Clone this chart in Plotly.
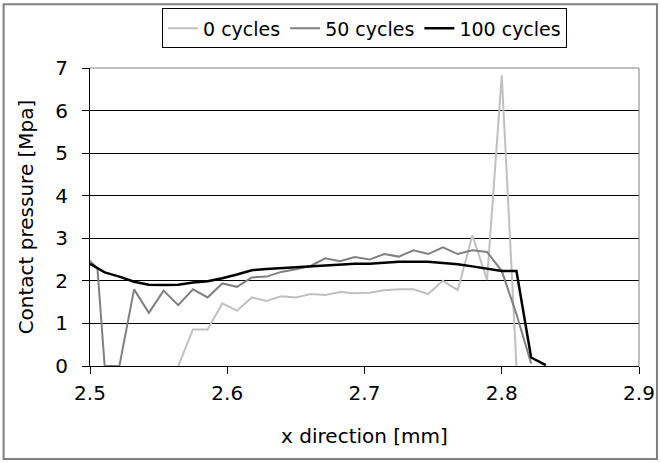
import plotly.graph_objects as go

# ---- data ----
x_grid = [2.5, 2.5107, 2.5214, 2.5321, 2.5429, 2.5536, 2.5643, 2.575, 2.5857, 2.5964,
          2.6071, 2.6179, 2.6286, 2.6393, 2.65, 2.6607, 2.6714, 2.6821, 2.6929, 2.7036,
          2.7143, 2.725, 2.7357, 2.7464, 2.7571, 2.7679, 2.7786, 2.7893, 2.8, 2.8107,
          2.8214, 2.8321]

x_0 = [2.5643, 2.575, 2.5857, 2.5964, 2.6071, 2.6179, 2.6286, 2.6393, 2.65, 2.6607,
       2.6714, 2.6821, 2.6929, 2.7036, 2.7143, 2.725, 2.7357, 2.7464, 2.7571, 2.7679,
       2.7786, 2.7893, 2.8, 2.8107]
y_0 = [0.0, 0.86, 0.86, 1.47, 1.30, 1.61, 1.53, 1.64, 1.61, 1.69,
       1.67, 1.74, 1.71, 1.72, 1.78, 1.80, 1.80, 1.69, 2.00, 1.78,
       3.07, 2.02, 6.83, 0.0]

x_50 = [2.5, 2.5054, 2.5107, 2.5214, 2.5321, 2.5429, 2.5536, 2.5643, 2.575, 2.5857,
        2.5964, 2.6071, 2.6179, 2.6286, 2.6393, 2.65, 2.6607, 2.6714, 2.6821, 2.6929,
        2.7036, 2.7143, 2.725, 2.7357, 2.7464, 2.7571, 2.7679, 2.7786, 2.7893, 2.8,
        2.8107, 2.8214]
y_50 = [2.47, 2.30, 0.0, 0.0, 1.80, 1.25, 1.77, 1.43, 1.80, 1.61,
        1.94, 1.86, 2.08, 2.10, 2.21, 2.27, 2.35, 2.53, 2.46, 2.56,
        2.50, 2.63, 2.57, 2.72, 2.63, 2.79, 2.63, 2.72, 2.68, 2.23,
        1.22, 0.06]

x_100 = x_grid
y_100 = [2.40, 2.20, 2.10, 1.98, 1.91, 1.90, 1.91, 1.96, 1.99, 2.06,
         2.15, 2.25, 2.28, 2.30, 2.32, 2.34, 2.37, 2.39, 2.40, 2.40,
         2.43, 2.45, 2.45, 2.45, 2.42, 2.39, 2.34, 2.29, 2.23, 2.23,
         0.20, 0.02]

series_names = ["0 cycles", "50 cycles", "100 cycles"]
x_ticks = [2.5, 2.6, 2.7, 2.8, 2.9]
y_ticks = [0, 1, 2, 3, 4, 5, 6, 7]

FONT = "DejaVu Sans, Liberation Sans, Arial, sans-serif"
FS = 20

fig = go.Figure()
fig.add_trace(go.Scatter(x=x_0, y=y_0, mode="lines", name=series_names[0],
                         line=dict(color="#c0c0c0", width=2)))
fig.add_trace(go.Scatter(x=x_50, y=y_50, mode="lines", name=series_names[1],
                         line=dict(color="#808080", width=2)))
fig.add_trace(go.Scatter(x=x_100, y=y_100, mode="lines", name=series_names[2],
                         line=dict(color="#000000", width=2.5)))

W, H = 661, 463
L, R, T, B = 89.5, 22, 67.7, 97
pw = W - L - R
ph = H - T - B

def px_to_paper_x(px):
    return (px - L) / pw

def px_to_paper_y(py):
    return (H - B - py) / ph

fig.update_layout(
    width=W, height=H,
    margin=dict(l=L, r=R, t=T, b=B, pad=0, autoexpand=False),
    paper_bgcolor="white", plot_bgcolor="white",
    font=dict(family=FONT, size=FS, color="black"),
    showlegend=True,
    legend=dict(orientation="h", x=0.5, xanchor="center",
                y=px_to_paper_y(8), yanchor="top",
                bordercolor="black", borderwidth=1, bgcolor="white",
                font=dict(size=19), itemwidth=30, tracegroupgap=0),
    xaxis=dict(range=[2.5, 2.9], tickvals=x_ticks, tickformat=".1f",
               showgrid=False, zeroline=False,
               showline=True, linecolor="black", linewidth=1,
               ticks="outside", ticklen=7, tickcolor="black", tickwidth=1,
               ticklabelstandoff=2,
               layer="above traces",
               title=dict(text="x direction [mm]", standoff=24,
                          font=dict(size=FS))),
    yaxis=dict(range=[0, 7], tickvals=y_ticks,
               showgrid=True, gridcolor="black", gridwidth=1, zeroline=False,
               showline=True, linecolor="black", linewidth=1,
               ticks="outside", ticklen=7, tickcolor="black", tickwidth=1,
               ticklabelstandoff=10,
               layer="above traces",
               title=dict(text="Contact pressure [Mpa]", standoff=16,
                          font=dict(size=FS))),
)

# plot-area border (top & right, gray like the Excel plot area frame)
fig.add_shape(type="line", xref="paper", yref="paper", x0=0, x1=1, y0=1, y1=1,
              line=dict(color="#808080", width=1), layer="above")
fig.add_shape(type="line", xref="paper", yref="paper", x0=1, x1=1, y0=0, y1=1,
              line=dict(color="#808080", width=1), layer="above")
# outer chart border
fig.add_shape(type="rect", xref="paper", yref="paper",
              x0=px_to_paper_x(3), x1=px_to_paper_x(657),
              y0=px_to_paper_y(459), y1=px_to_paper_y(4),
              line=dict(color="#7f7f7f", width=2), fillcolor="rgba(0,0,0,0)",
              layer="above")

fig.write_html("out.html",
               config={"displayModeBar": False},
               post_script="document.body.style.margin='0';document.body.style.overflow='hidden';")
